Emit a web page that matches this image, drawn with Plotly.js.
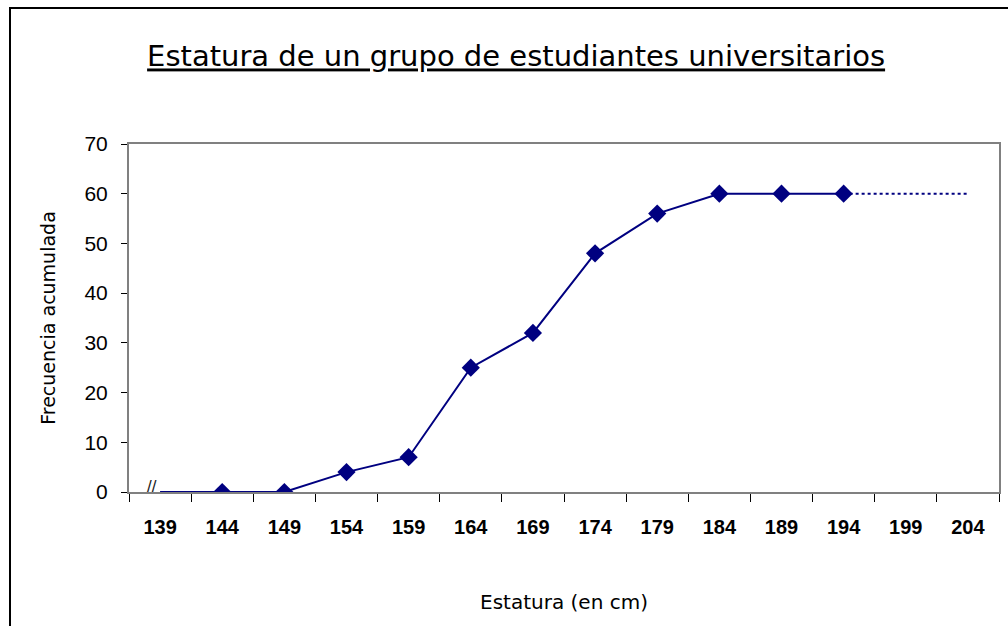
<!DOCTYPE html>
<html>
<head>
<meta charset="utf-8">
<script src="https://cdn.plot.ly/plotly-3.0.1.min.js"></script>
<style>
  html, body { margin: 0; padding: 0; background: #fff; }
  #frame { position: absolute; left: 9px; top: 7px; width: 999px; height: 619px;
           border-top: 2px solid #000; border-left: 2px solid #000; box-sizing: border-box; pointer-events: none; z-index: 5; }
  #chart { position: absolute; left: 0; top: 0; width: 1008px; height: 626px; }
</style>
</head>
<body>
<div id="chart"></div>
<div id="frame"></div>
<script>
// Category labels (height in cm)
const heights = ['139','144','149','154','159','164','169','174','179','184','189','194','199','204'];
// Cumulative frequency (ogive) points
const ogiveX = ['144','149','154','159','164','169','174','179','184','189','194'];
const ogiveY = [0, 0, 4, 7, 25, 32, 48, 56, 60, 60, 60];
// Leading segment before the first class (axis break)
const leadX = ['139','144'];
const leadY = [0, 0];
// Dotted continuation after last class
const tailX = ['194','199','204'];
const tailY = [60, 60, 60];

const navy = '#000080';
const comic = '"Comic Sans MS", "DejaVu Sans", sans-serif';

const traces = [
  { x: leadX, y: leadY, type: 'scatter', mode: 'lines',
    line: { color: navy, width: 2 }, hoverinfo: 'skip', showlegend: false },
  { x: tailX, y: tailY, type: 'scatter', mode: 'lines',
    line: { color: navy, width: 2, dash: 'dot' }, hoverinfo: 'skip', showlegend: false },
  { x: ogiveX, y: ogiveY, type: 'scatter', mode: 'lines+markers',
    line: { color: navy, width: 2 },
    marker: { symbol: 'diamond', size: 14, color: navy }, showlegend: false }
];

const layout = {
  width: 1008, height: 626,
  margin: { l: 129, r: 9, t: 144, b: 134, pad: 0 },
  paper_bgcolor: '#fff', plot_bgcolor: '#fff',
  title: {
    text: '<u>Estatura de un grupo de estudiantes universitarios</u>',
    font: { family: comic, size: 29, color: '#000' },
    x: 0.512, xanchor: 'center', y: 0.91, yanchor: 'middle', yref: 'container'
  },
  xaxis: {
    type: 'category', categoryorder: 'array', categoryarray: heights,
    range: [-0.5, 13.5],
    tickson: 'boundaries', ticks: 'outside', ticklen: 8, tickwidth: 1, tickcolor: '#000',
    showline: true, linecolor: '#808080', linewidth: 2, mirror: true,
    showgrid: false, zeroline: false,
    tickfont: { family: 'Arial, "Liberation Sans", sans-serif', size: 20, color: '#000', weight: 'bold' },
    ticklabelstandoff: 16,
    title: { text: 'Estatura (en cm)', font: { family: comic, size: 20, color: '#000' }, standoff: 58 }
  },
  yaxis: {
    range: [0, 70], dtick: 10, tick0: 0,
    ticks: 'outside', ticklen: 6, tickwidth: 1, tickcolor: '#000',
    showline: true, linecolor: '#808080', linewidth: 2, mirror: true,
    showgrid: false, zeroline: false,
    tickfont: { family: 'Arial, "Liberation Sans", sans-serif', size: 21, color: '#000' },
    ticklabelstandoff: 9,
    title: { text: 'Frecuencia acumulada', font: { family: comic, size: 19, color: '#000' }, standoff: 24 }
  },
  annotations: [
    { x: 0, y: 0, xref: 'x', yref: 'y', text: '//', showarrow: false,
      xshift: -8, yshift: 6, font: { family: 'Arial, sans-serif', size: 17, color: '#222' } }
  ]
};

Plotly.newPlot('chart', traces, layout, { displayModeBar: false, staticPlot: true });
</script>
</body>
</html>
